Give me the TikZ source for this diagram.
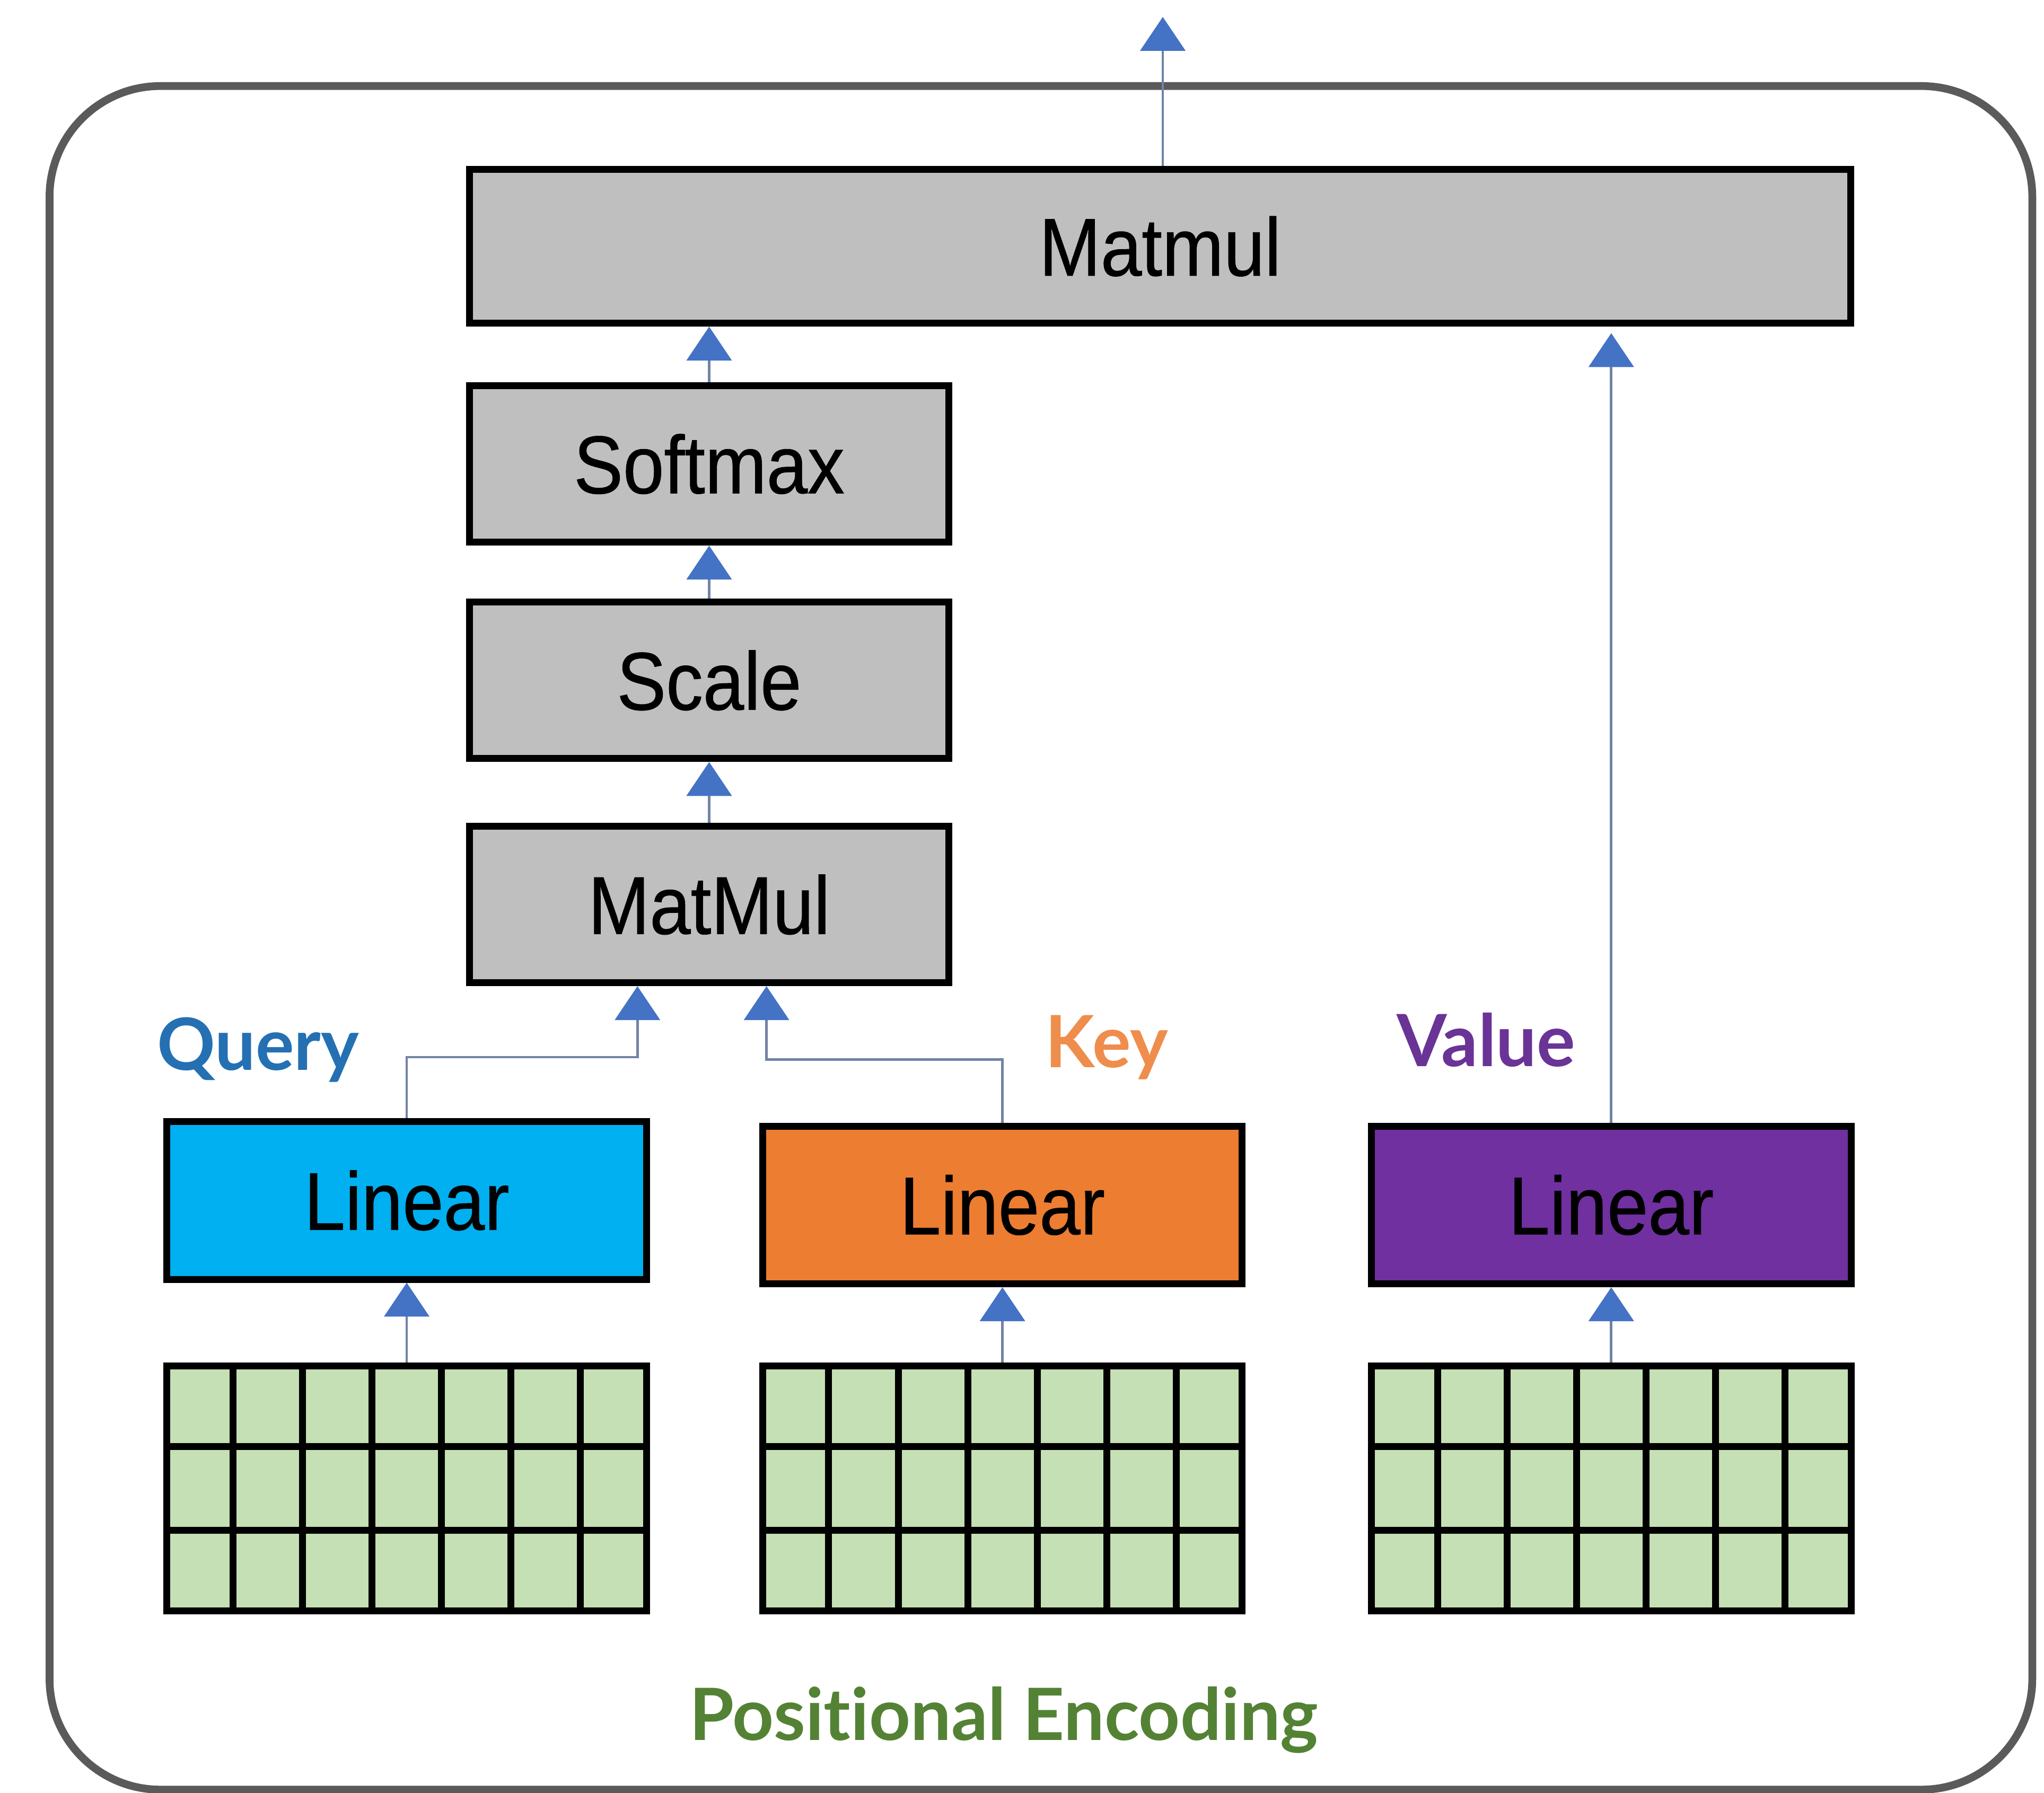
\documentclass[tikz,border=0pt]{standalone}
\usepackage{fontspec}
\setmainfont[FakeStretch=0.9,FakeBold=0.6]{Liberation Sans}
\newfontfamily\labelfont{Lato}[UprightFont=* Bold, Ligatures=NoCommon]
\usetikzlibrary{arrows.meta,calc}
\definecolor{boxgray}{HTML}{BFBFBF}
\definecolor{frameg}{HTML}{5A5A5A}
\definecolor{qblue}{HTML}{00B0F0}
\definecolor{korange}{HTML}{ED7D31}
\definecolor{vpurple}{HTML}{7030A0}
\definecolor{gridgreen}{HTML}{C5E0B4}
\definecolor{conline}{HTML}{7283A6}
\definecolor{headblue}{HTML}{4472C4}
\definecolor{qtext}{HTML}{2470B3}
\definecolor{ktext}{HTML}{EF8D4C}
\definecolor{vtext}{HTML}{6A3396}
\definecolor{ptext}{HTML}{548235}
\tikzset{
  opbox/.style={draw=black, line width=3pt, fill=boxgray, inner sep=0pt,
    font=\fontsize{35.8}{40}\selectfont, text=black},
  linbox/.style={draw=black, line width=3pt, inner sep=0pt,
    minimum width=7.36cm, minimum height=2.42cm,
    font=\fontsize{35.8}{40}\selectfont, text=black},
  gridbox/.style={draw=black, line width=3pt, fill=gridgreen, inner sep=0pt,
    minimum width=7.36cm, minimum height=3.76cm},
  gridline/.style={draw=black, line width=3pt},
  arr/.style={draw=conline, line width=1.1pt,
    -{Triangle[width=0.7cm,length=0.52cm,color=headblue,fill=headblue,line width=0pt]}},
  lbl/.style={font=\labelfont\fontsize{31.5}{36}\selectfont, anchor=base, inner sep=0pt}
}
\begin{document}
\begin{tikzpicture}[x=0.02cm,y=-0.02cm]
\useasboundingbox (0,0) rectangle (1568,1375.2);
% outer frame
\draw[draw=frameg, line width=3.4pt, rounded corners=1.7cm] (38,66) rectangle (1559,1373);

% operation boxes
\node[opbox, minimum width=21.2cm, minimum height=2.36cm] (mmtop) at (890,189) {Matmul};
\node[opbox, minimum width=7.36cm, minimum height=2.4cm] (soft) at (544,356) {Softmax};
\node[opbox, minimum width=7.36cm, minimum height=2.4cm] (scale) at (544,522) {Scale};
\node[opbox, minimum width=7.36cm, minimum height=2.4cm] (mmlow) at (544,694) {MatMul};

% linear boxes
\node[linbox, fill=qblue] (lq) at (312,921) {Linear};
\node[linbox, fill=korange] (lk) at (769,924.5) {Linear};
\node[linbox, fill=vpurple] (lv) at (1236,924.5) {Linear};

% grids
\foreach \g/\x in {gq/312, gk/769, gv/1236} {
  \node[gridbox] (\g) at (\x,1142) {};
  \foreach \i in {1,...,6}
    \draw[gridline] ($(\g.south west)!\i/7!(\g.south east)$) -- ($(\g.north west)!\i/7!(\g.north east)$);
  \foreach \j in {1,2}
    \draw[gridline] ($(\g.south west)!\j/3!(\g.north west)$) -- ($(\g.south east)!\j/3!(\g.north east)$);
}

% labels
\node[lbl, text=qtext] (tq) at (198,821) {Query};
\node[lbl, text=ktext] (tk) at (849,819) {Key};
\node[lbl, text=vtext] (tv) at (1140,818) {Value};
\node[lbl, text=ptext] (tp) at (770,1335) {Positional Encoding};

% connectors
\coordinate (out) at (892,13);
\draw[arr] (mmtop.north -| out) -- (out);
\draw[arr] (soft.north) -- (mmtop.south -| soft.north);
\draw[arr] (scale.north) -- (soft.south);
\draw[arr] (mmlow.north) -- (scale.south);
\coordinate (qj) at (489,811);
\coordinate (kj) at (588,813);
\draw[arr] (lq.north) |- (qj) -- (qj |- mmlow.south);
\draw[arr] (lk.north) |- (kj) -- (kj |- mmlow.south);
\draw[arr, shorten >=0.1cm] (lv.north) -- (lv.north |- mmtop.south);
\draw[arr] (gq.north) -- (lq.south);
\draw[arr] (gk.north) -- (lk.south);
\draw[arr] (gv.north) -- (lv.south);
\end{tikzpicture}
\end{document}
